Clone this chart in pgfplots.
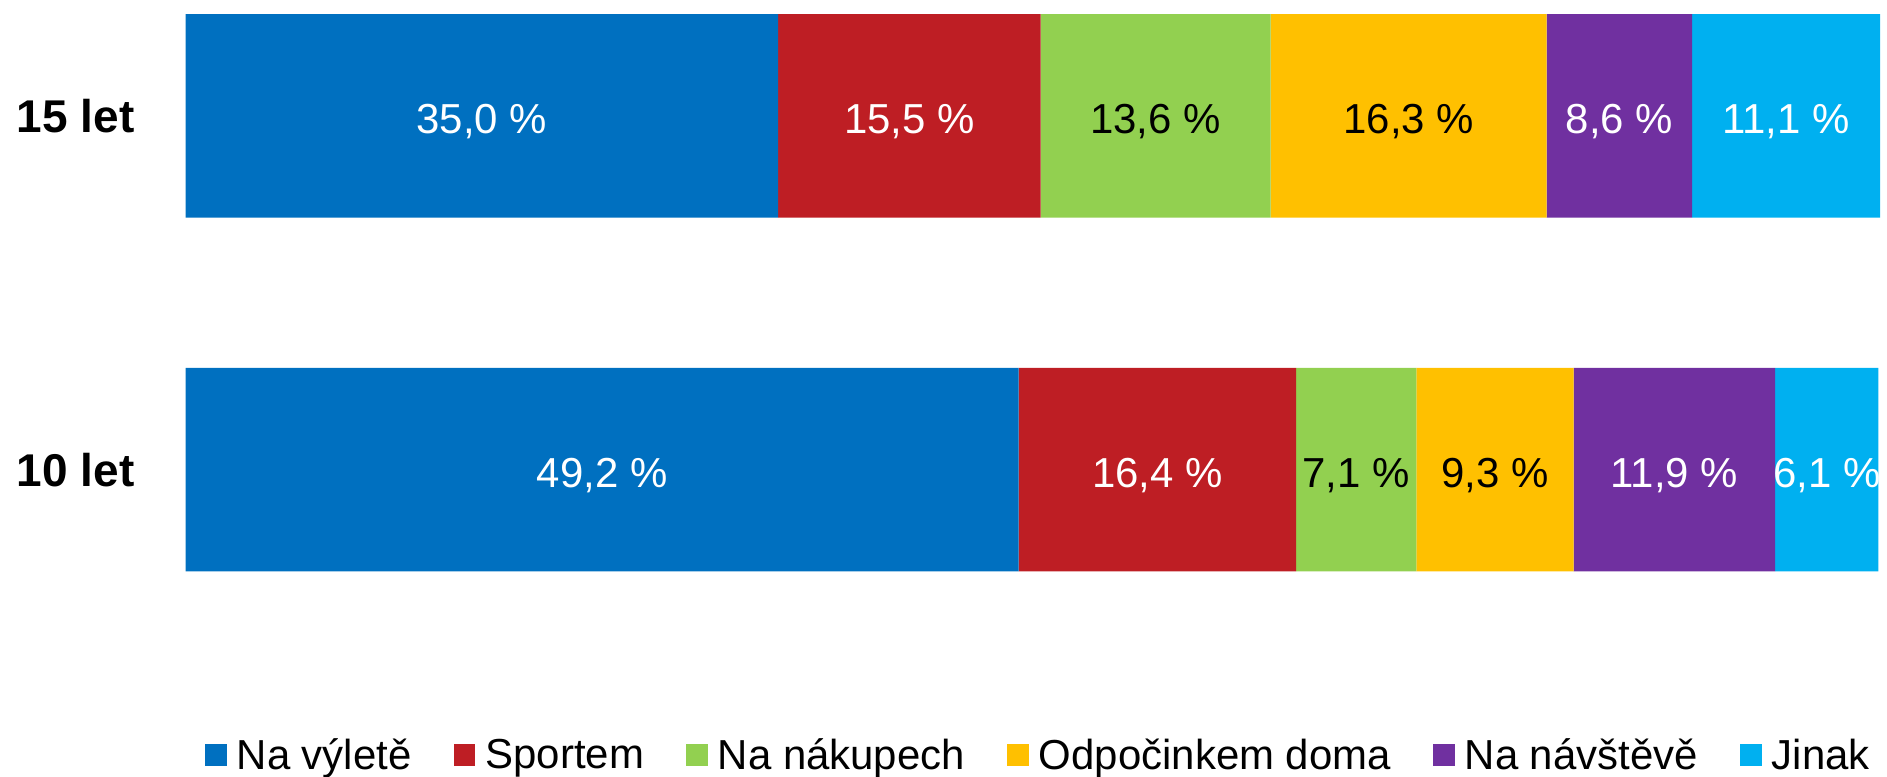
\documentclass[border=0pt]{standalone}
\usepackage{pgfplots}
\pgfplotsset{compat=1.18}
\usepackage{fontspec}
\setmainfont{Liberation Sans}

\definecolor{cBlue}{HTML}{0070C0}
\definecolor{cRed}{HTML}{BE1E24}
\definecolor{cGreen}{HTML}{92D050}
\definecolor{cYellow}{HTML}{FFC000}
\definecolor{cPurple}{HTML}{7030A0}
\definecolor{cCyan}{HTML}{00B0F0}

\begin{document}
\begin{tikzpicture}
\begin{axis}[
    scale only axis,
    width=848pt, height=388pt,
    xbar stacked,
    bar width=102pt,
    xmin=0, xmax=100.05,
    ymin=-0.863, ymax=1.3277,
    axis line style={draw=none},
    major tick length=0pt,
    xtick=\empty,
    ytick={0,1},
    yticklabels={10 let, 15 let},
    yticklabel style={font=\fontsize{23}{23}\selectfont\bfseries, inner sep=0pt, xshift=-25.5pt},
    clip=false,
    point meta=explicit,
    nodes near coords={\pgfmathprintnumber[fixed, fixed zerofill, precision=1, use comma, assume math mode=true]{\pgfplotspointmeta}~\%},
    every node near coord/.append style={font=\fontsize{21}{21}\selectfont, text=white, yshift=-3pt},
    legend columns=6,
    legend style={draw=none, font=\fontsize{21}{21}\selectfont,
        at={(rel axis cs:0.504,0.025)}, anchor=center, inner sep=0pt,
        nodes={inner sep=2pt},
        /tikz/every odd column/.append style={column sep=3pt},
        /tikz/every even column/.append style={column sep=19pt}},
    legend image code/.code={\fill[#1] (0pt,-5.5pt) rectangle (11pt,5.5pt);},
]
% Na výletě
\addplot[fill=cBlue, draw=none] coordinates {(35.0,1) [35.0] (49.2,0) [49.2]};
% Sportem
\addplot[fill=cRed, draw=none] coordinates {(15.5,1) [15.5] (16.4,0) [16.4]};
% Na nákupech
\addplot[fill=cGreen, draw=none, every node near coord/.append style={text=black}] coordinates {(13.6,1) [13.6] (7.1,0) [7.1]};
% Odpočinkem doma
\addplot[fill=cYellow, draw=none, every node near coord/.append style={text=black}] coordinates {(16.3,1) [16.3] (9.3,0) [9.3]};
% Na návštěvě
\addplot[fill=cPurple, draw=none] coordinates {(8.6,1) [8.6] (11.9,0) [11.9]};
% Jinak
\addplot[fill=cCyan, draw=none] coordinates {(11.1,1) [11.1] (6.1,0) [6.1]};
\legend{Na výletě, Sportem, Na nákupech, Odpočinkem doma, Na návštěvě, Jinak}
% rozmery obrazku
\path (rel axis cs:-0.10967,0) rectangle (rel axis cs:1.00295,1);
\end{axis}
\end{tikzpicture}
\end{document}
